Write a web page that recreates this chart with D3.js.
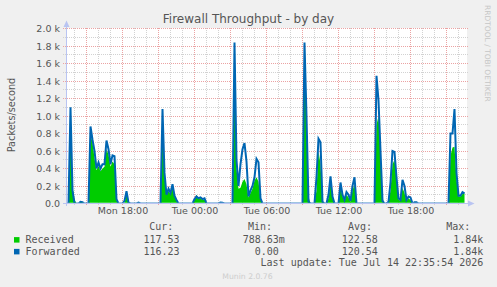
<!DOCTYPE html>
<html>
<head>
<meta charset="utf-8">
<script src="https://cdn.jsdelivr.net/npm/d3@7"></script>
<style>
  body { margin: 0; background: #f0f0f0; }
  svg { display: block; }
</style>
</head>
<body>
<div id="chart"></div>
<script>
// samples every 10 minutes, first one Mon 13 Jul 2026 13:20
var startTime = new Date(2026, 6, 13, 13, 20);
var stepMinutes = 10;

var received = [
  0, 0, 1000, 200, 50, 0, 0, 20, 15, 0,
  0, 0, 780, 700, 520, 380, 430, 370, 400, 420,
  620, 560, 420, 480, 450, 40, 0, 0, 0, 10,
  100, 10, 0, 0, 0, 0, 10, 0, 0, 0,
  0, 0, 0, 0, 0, 0, 0, 0, 1000, 300,
  120, 140, 110, 190, 80, 30, 0, 0, 0, 0,
  0, 0, 0, 0, 45, 100, 60, 60, 40, 50,
  0, 0, 0, 0, 0, 0, 0, 8, 5, 0,
  0, 0, 0, 0, 1840, 400, 170, 180, 250, 280,
  220, 70, 120, 170, 260, 300, 250, 50, 0, 0,
  0, 0, 0, 0, 0, 0, 0, 0, 0, 0,
  0, 0, 0, 0, 0, 0, 0, 0, 0, 1840,
  1100, 80, 0, 0, 0, 150, 600, 450, 30, 0,
  0, 60, 250, 60, 0, 0, 0, 180, 80, 30,
  100, 70, 20, 150, 220, 10, 0, 0, 0, 0,
  0, 0, 0, 0, 0, 900, 1000, 600, 60, 0,
  0, 10, 150, 450, 500, 280, 50, 30, 180, 120,
  30, 60, 40, 0, 10, 10, 0, 0, 0, 0,
  0, 0, 0, 0, 0, 0, 0, 0, 0, 0,
  0, 0, 550, 640, 650, 280, 80, 80, 110, 117.53
];

var forwarded = [
  0, 0, 1100, 150, 0, 0, 0, 20, 15, 0,
  0, 0, 880, 730, 600, 400, 470, 400, 450, 450,
  720, 620, 450, 550, 540, 50, 0, 0, 0, 30,
  140, 10, 0, 0, 0, 0, 10, 0, 0, 0,
  0, 0, 0, 0, 0, 0, 0, 0, 1080, 350,
  100, 170, 120, 220, 90, 40, 0, 0, 0, 0,
  0, 0, 0, 0, 50, 80, 60, 70, 50, 60,
  0, 0, 0, 0, 0, 0, 0, 10, 8, 0,
  0, 0, 0, 0, 1840, 500, 200, 450, 620, 690,
  480, 80, 150, 200, 300, 510, 470, 60, 0, 0,
  0, 0, 0, 0, 0, 0, 0, 0, 0, 0,
  0, 0, 0, 0, 0, 0, 0, 0, 0, 1840,
  1000, 20, 0, 0, 0, 300, 740, 700, 20, 0,
  0, 100, 310, 80, 0, 0, 0, 240, 100, 40,
  130, 100, 30, 200, 300, 0, 0, 0, 0, 0,
  0, 0, 0, 0, 0, 1460, 1180, 600, 30, 0,
  0, 20, 240, 600, 590, 300, 60, 40, 270, 200,
  40, 80, 70, 0, 15, 15, 0, 0, 0, 0,
  0, 0, 0, 0, 0, 0, 0, 0, 0, 0,
  0, 0, 800, 800, 1080, 350, 90, 90, 130, 116.23
];

var yTickValues = [0, 200, 400, 600, 800, 1000, 1200, 1400, 1600, 1800, 2000];
var yTickLabels = ["0.0", "0.2 k", "0.4 k", "0.6 k", "0.8 k", "1.0 k", "1.2 k", "1.4 k", "1.6 k", "1.8 k", "2.0 k"];

var xTickTimes = [
  new Date(2026, 6, 13, 18), new Date(2026, 6, 14, 0), new Date(2026, 6, 14, 6),
  new Date(2026, 6, 14, 12), new Date(2026, 6, 14, 18)
];
var xTickLabels = ["Mon 18:00", "Tue 00:00", "Tue 06:00", "Tue 12:00", "Tue 18:00"];

var seriesNames = ["Received", "Forwarded"];
var curValues = ["117.53", "116.23"];
var minValues = ["788.63m", "0.00 "];
var avgValues = ["122.58", "120.54"];
var maxValues = ["1.84k", "1.84k"];
var lastUpdate = "Last update: Tue Jul 14 22:35:54 2026";

// layout
var width = 497, height = 287;
var plotLeft = 66.5, plotRight = 466.5, plotTop = 28.5, plotBottom = 203.5;
var sans = "'DejaVu Sans', sans-serif";
var mono = "'DejaVu Sans Mono', monospace";
var fontColor = "#555";

var color = d3.scaleOrdinal().domain(seriesNames).range(["#00cc00", "#0066b3"]);

var svg = d3.select('#chart').append('svg')
  .attr('width', width)
  .attr('height', height);

svg.append('rect').attr('width', width).attr('height', height).attr('fill', '#f0f0f0');
svg.append('rect')
  .attr('x', 67).attr('y', 28).attr('width', 400).attr('height', 175)
  .attr('fill', '#ffffff');

var endTime = d3.timeMinute.offset(startTime, 2000);
var x = d3.scaleTime().domain([startTime, endTime]).range([plotLeft, plotRight]);
var y = d3.scaleLinear().domain([0, 2000]).range([plotBottom, plotTop]);

function timeAt(i) { return d3.timeMinute.offset(startTime, i * stepMinutes); }
function crisp(v) { return Math.round(v - 0.5) + 0.5; }

// grid (hourly minor, 3 hourly major / 100 minor, 200 major)
var grid = svg.append('g').attr('shape-rendering', 'crispEdges');
var hours = x.ticks(d3.timeHour.every(1));
grid.selectAll('.vgrid').data(hours).enter().append('line')
  .attr('x1', function(d) { return crisp(x(d)); })
  .attr('x2', function(d) { return crisp(x(d)); })
  .attr('y1', 28).attr('y2', 206)
  .attr('stroke', function(d) { return d.getHours() % 3 === 0 ? '#eba3a3' : '#d2d2d2'; })
  .attr('stroke-dasharray', '1,1');

var levels = y.ticks(20);
grid.selectAll('.hgrid').data(levels.filter(function(d) { return d > 0; })).enter().append('line')
  .attr('x1', 63).attr('x2', 468)
  .attr('y1', function(d) { return crisp(y(d)); })
  .attr('y2', function(d) { return crisp(y(d)); })
  .attr('stroke', function(d) { return d % 200 === 0 ? '#eba3a3' : '#d2d2d2'; })
  .attr('stroke-dasharray', '1,1');

// data
svg.append('clipPath').attr('id', 'plotclip')
  .append('rect').attr('x', 67).attr('y', 28).attr('width', 400).attr('height', 174.7);

var area = d3.area()
  .x(function(d, i) { return x(timeAt(i)); })
  .y0(y(0))
  .y1(function(d) { return y(d); });

var line = d3.line()
  .x(function(d, i) { return x(timeAt(i)); })
  .y(function(d) { return y(d); });

var plot = svg.append('g').attr('clip-path', 'url(#plotclip)');
plot.append('path')
  .attr('d', area(received))
  .attr('fill', color('Received'));
plot.append('path')
  .attr('d', line(forwarded))
  .attr('fill', 'none')
  .attr('stroke', color('Forwarded'))
  .attr('stroke-width', 2)
  .attr('stroke-linejoin', 'miter');

// axes lines with arrows
var axisColor = '#b9c4f2';
svg.append('line').attr('x1', 66.5).attr('x2', 66.5).attr('y1', 206).attr('y2', 24)
  .attr('stroke', axisColor);
svg.append('line').attr('x1', 63).attr('x2', 470).attr('y1', 203.5).attr('y2', 203.5)
  .attr('stroke', axisColor);
svg.append('path').attr('d', 'M63.5,27 L66.5,20.5 L69.5,27 Z').attr('fill', axisColor);
svg.append('path').attr('d', 'M468,200.5 L474.5,203.5 L468,206.5 Z').attr('fill', axisColor);

// axis labels
var yAxis = d3.axisLeft(y)
  .tickValues(yTickValues)
  .tickFormat(function(d, i) { return yTickLabels[i]; })
  .tickSize(0)
  .tickPadding(0);
var yg = svg.append('g').attr('transform', 'translate(60,0)').call(yAxis);
yg.select('.domain').remove();
yg.selectAll('text')
  .attr('font-family', sans).attr('font-size', '9.5px').attr('fill', fontColor);

var xAxis = d3.axisBottom(x)
  .tickValues(xTickTimes)
  .tickFormat(function(d, i) { return xTickLabels[i]; })
  .tickSize(0)
  .tickPadding(0);
var xg = svg.append('g').attr('transform', 'translate(0,207)').call(xAxis);
xg.select('.domain').remove();
xg.selectAll('text')
  .attr('font-family', sans).attr('font-size', '9.5px').attr('fill', fontColor)
  .attr('dy', '0.71em');

// titles
svg.append('text')
  .attr('x', 248.5).attr('y', 23.3)
  .attr('text-anchor', 'middle')
  .attr('font-family', sans).attr('font-size', '12px').attr('fill', fontColor)
  .text('Firewall Throughput - by day');

svg.append('text')
  .attr('transform', 'translate(15,115) rotate(-90)')
  .attr('text-anchor', 'middle')
  .attr('font-family', sans).attr('font-size', '9.7px').attr('fill', fontColor)
  .text('Packets/second');

svg.append('text')
  .attr('transform', 'translate(485,5) rotate(90)')
  .attr('font-family', sans).attr('font-size', '7.5px').attr('fill', '#c6c6c6')
  .text('RRDTOOL / TOBI OETIKER');

svg.append('text')
  .attr('x', 222.3).attr('y', 279.3)
  .attr('font-family', sans).attr('font-size', '7.7px').attr('fill', '#cdcdcd')
  .text('Munin 2.0.76');

// legend
var legendText = function(sel) {
  return sel.attr('font-family', mono).attr('font-size', '10px').attr('fill', fontColor)
    .style('white-space', 'pre');
};

var headers = [["Cur:", 149.2], ["Min:", 248], ["Avg:", 348], ["Max:", 446.3]];
headers.forEach(function(h) {
  legendText(svg.append('text').attr('x', h[1]).attr('y', 230.3)).text(h[0]);
});

var legend = svg.selectAll('.legend')
  .data(seriesNames)
  .enter()
  .append('g')
  .attr('class', 'legend')
  .attr('transform', function(d, i) { return 'translate(0,' + (242.7 + i * 11.8) + ')'; });

legend.append('rect')
  .attr('x', 14).attr('y', -5.6).attr('width', 5.5).attr('height', 5.5)
  .attr('fill', color);
legendText(legend.append('text').attr('x', 25.5)).text(function(d) { return d; });
legendText(legend.append('text').attr('x', 179.6).attr('text-anchor', 'end'))
  .text(function(d, i) { return curValues[i]; });
legendText(legend.append('text').attr('x', 284.9).attr('text-anchor', 'end'))
  .text(function(d, i) { return minValues[i]; });
legendText(legend.append('text').attr('x', 377.9).attr('text-anchor', 'end'))
  .text(function(d, i) { return avgValues[i]; });
legendText(legend.append('text').attr('x', 483.3).attr('text-anchor', 'end'))
  .text(function(d, i) { return maxValues[i]; });

legendText(svg.append('text').attr('x', 483.3).attr('y', 266.3).attr('text-anchor', 'end'))
  .text(lastUpdate);
</script>
</body>
</html>
